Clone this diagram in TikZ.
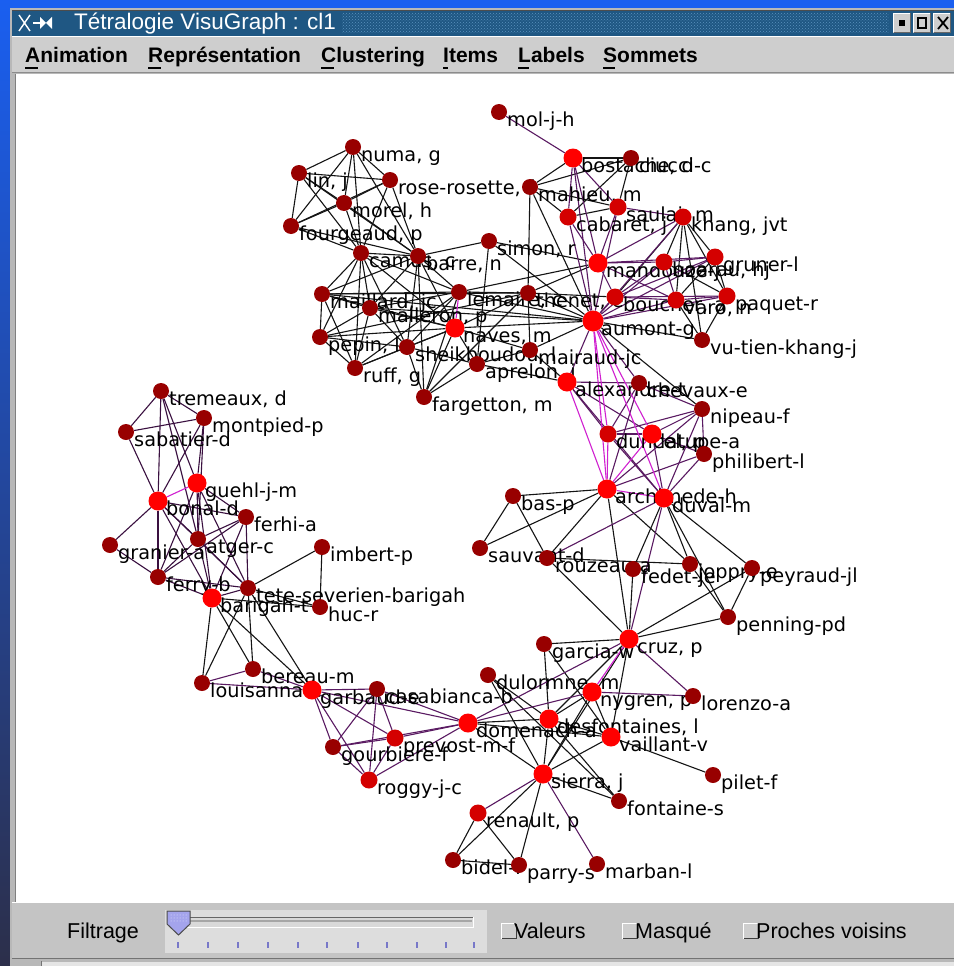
\documentclass[tikz,border=0pt]{standalone}
\usepackage{fontspec}
\setmainfont{DejaVu Sans}
\newfontfamily\uifont{Liberation Sans}
\usetikzlibrary{patterns}
\pgfdeclarelayer{chrome}
\pgfdeclarelayer{edges}
\pgfdeclarelayer{labels}
\pgfsetlayers{chrome,edges,labels,main}

\definecolor{deskblue}{HTML}{1A5FF0}
\definecolor{deskdark}{HTML}{2C2F4A}
\definecolor{titlebar}{HTML}{1F5783}
\definecolor{titledots}{HTML}{5A92BE}
\definecolor{panelgray}{HTML}{C4C4C4}
\definecolor{menugray}{HTML}{CECECE}
\definecolor{framegray}{HTML}{B8B8B8}
\definecolor{vbright}{HTML}{FF0000}
\definecolor{vmid}{HTML}{D40000}
\definecolor{vdark}{HTML}{980000}
\definecolor{epurple}{HTML}{5A1A62}
\definecolor{edeep}{HTML}{3A1040}
\definecolor{emagenta}{HTML}{D020D0}
\definecolor{thumbblue}{HTML}{A4A4EC}
\definecolor{tickblue}{HTML}{7878C8}

\tikzset{
  vx/.style={circle, inner sep=0pt, minimum size=16pt},
  br/.style={vx, fill=vbright, minimum size=19pt},
  md/.style={vx, fill=vmid, minimum size=17pt},
  dk/.style={vx, fill=vdark},
  lbl/.style={anchor=base west, inner sep=0pt, font=\fontsize{19.3}{19.3}\selectfont},
  ek/.style={line width=1.1pt, black!92},
  ep/.style={line width=1.1pt, epurple},
  ed/.style={line width=1.1pt, edeep},
  em/.style={line width=1.1pt, emagenta},
  menu/.style={anchor=base west, inner sep=0pt, font=\uifont\bfseries\fontsize{21}{21}\selectfont},
  ui/.style={anchor=base west, inner sep=0pt, font=\uifont\fontsize{21.5}{21.5}\selectfont},
}

% a graph vertex with its name label
\newcommand\gv[5]{%
  \node[#4] (#1) at (#2,#3) {};%
  \begin{pgfonlayer}{labels}\node[lbl] at ([shift={(8,14)}]#1.center) {#5};\end{pgfonlayer}}

\begin{document}
\begin{tikzpicture}[x=1pt,y=-1pt]
\useasboundingbox (0,0) rectangle (954,966);

% ---------- window chrome ----------
\begin{pgfonlayer}{chrome}
  \fill[deskblue] (0,0) rectangle (954,966);
  \shade[top color=deskblue, bottom color=deskdark] (0,0) rectangle (11,966);
  \fill[framegray] (10,8) rectangle (954,966);
  % title bar
  \fill[titlebar] (12,10) rectangle (954,36);
  \draw[black!70, line width=1pt] (12,10.5) -- (954,10.5);
  \fill[pattern=crosshatch dots, pattern color=titledots] (342,14) rectangle (889,33);
  \node[anchor=base west, inner sep=0pt, text=white, font=\uifont\fontsize{22.5}{22.5}\selectfont] (ttl) at (74,29.5) {Tétralogie VisuGraph : cl1};
  % window icon
  \draw[white, line width=1.4pt] (19,15) -- (30,31) (30,15) -- (19,31);
  \draw[white, line width=1.4pt] (33,23) -- (40,23);
  \fill[white] (40,17) -- (46,23) -- (40,29) -- cycle (52,17) -- (46,23) -- (52,29) -- cycle;
  % title buttons
  \foreach \bx in {893,913,933} {
    \fill[menugray] (\bx,13) rectangle (\bx+18,33);
    \draw[white] (\bx+0.5,32.5) -- (\bx+0.5,13.5) -- (\bx+17.5,13.5);
    \draw[black!60] (\bx+17.5,13.5) -- (\bx+17.5,32.5) -- (\bx+0.5,32.5);
  }
  \fill[black] (899,20) rectangle (905,26);
  \draw[black, line width=1.6pt] (918,18) rectangle (926,28);
  \draw[black, line width=1.8pt] (938,17) -- (948,29) (948,17) -- (938,29);
  % menu bar
  \fill[menugray] (12,36) rectangle (954,72);
  \draw[white] (12,36.5) -- (954,36.5);
  \draw[black!45] (12,72.5) -- (954,72.5);
  \node[menu] (m1) at (25,63) {Animation};
  \node[menu] (m2) at (148,63) {Représentation};
  \node[menu] (m3) at (321,63) {Clustering};
  \node[menu] (m4) at (443,63) {Items};
  \node[menu] (m5) at (518,63) {Labels};
  \node[menu] (m6) at (603,63) {Sommets};
  \foreach \ux/\uw in {25/13, 148/13, 321/13, 443/5, 518/11, 603/12}
    \draw[black, line width=1.4pt] (\ux,68) -- (\ux+\uw,68);
  % drawing area
  \fill[white] (16,74) rectangle (954,902);
  \draw[black!50] (15.5,73.5) -- (15.5,902);
  % bottom panel
  \fill[panelgray] (12,902) rectangle (954,958);
  \draw[white] (12,902.5) -- (954,902.5);
  \fill[framegray] (12,958) rectangle (954,966);
  \draw[black!55] (12,958.5) -- (954,958.5);
  \fill[white!90!black] (42,962) rectangle (954,966);
  \draw[black!55] (41.5,961) -- (41.5,966);
  \node[ui] (filt) at (67,938) {Filtrage};
  % slider
  \fill[menugray!70!white] (165,910) rectangle (487,953);
  \fill[black!15] (176,917) rectangle (474,928);
  \draw[black!60] (176,917.5) -- (474,917.5);
  \draw[black!40] (176.5,917) -- (176.5,928);
  \draw[white, line width=1.2pt] (176,927.4) -- (474,927.4) (473.4,917) -- (473.4,928);
  \draw[black!35, line width=1.2pt] (178,921) -- (472,921);
  \foreach \tx in {178,208,238,268,298,327,358,387,417,446,474}
    \draw[tickblue, line width=1.1pt] (\tx,942) -- (\tx,948);
  \fill[thumbblue] (167,911) -- (190,911) -- (190,924) -- (178.5,935) -- (167,924) -- cycle;
  \fill[pattern=dots, pattern color=white!70!thumbblue] (169,913) rectangle (188,922);
  \draw[black!70, line width=1pt] (167,911) -- (190,911) -- (190,924) -- (178.5,935) -- (167,924) -- cycle;
  % check boxes
  \foreach \cx/\ct in {501/Valeurs, 622/Masqué, 743/Proches voisins} {
    \fill[menugray] (\cx,923) rectangle (\cx+16,939);
    \draw[white] (\cx+0.5,938.5) -- (\cx+0.5,923.5) -- (\cx+15.5,923.5);
    \draw[black!75, line width=1.2pt] (\cx+15.4,923.5) -- (\cx+15.4,938.5) -- (\cx+0.5,938.5);
    \node[ui] at (\cx+13,938) {\ct};
  }
\end{pgfonlayer}

% ---------- vertices ----------
% upper right group
\gv{mol}{499}{112}{dk}{mol-j-h}
\gv{bost}{573}{158}{br}{bostache, d}
\gv{ciuc}{631}{158}{dk}{ciucci-c}
\gv{mahi}{530}{187}{dk}{mahieu, m}
\gv{saul}{618}{207}{md}{saulai, m}
\gv{caba}{568}{217}{md}{cabaret, j}
\gv{khan}{683}{217}{md}{khang, jvt}
\gv{mand}{598}{263}{br}{mandouze-j}
\gv{hoan}{664}{262}{md}{hoarau, hj}
\gv{grun}{715}{257}{md}{gruner-l}
\gv{then}{528}{293}{dk}{thenet, e}
\gv{bouc}{615}{297}{md}{boucher, a}
\gv{varo}{676}{300}{md}{varo, n}
\gv{paqu}{727}{296}{md}{paquet-r}
\node[br, minimum size=21pt] (aumo) at (593,321) {};
\begin{pgfonlayer}{labels}\node[lbl] at ([shift={(8,14)}]aumo.center) {aumont-g};\end{pgfonlayer}
\gv{vuti}{702}{340}{dk}{vu-tien-khang-j}
\gv{mair}{530}{350}{dk}{mairaud-jc}
% upper left group
\gv{numa}{353}{147}{dk}{numa, g}
\gv{lin}{299}{173}{dk}{lin, j}
\gv{rose}{390}{180}{dk}{rose-rosette, f}
\gv{more}{344}{203}{dk}{morel, h}
\gv{four}{291}{226}{dk}{fourgeaud, p}
\gv{camu}{361}{253}{dk}{camus, c}
\gv{barr}{418}{256}{dk}{barre, n}
\gv{simo}{489}{241}{dk}{simon, r}
\gv{mail}{322}{294}{dk}{maillard, jc}
\gv{mall}{370}{308}{dk}{malleron, p}
\gv{lema}{459}{292}{dk}{lemaire, c}
\gv{pepi}{320}{337}{dk}{pepin, l}
\gv{ruff}{355}{368}{dk}{ruff, g}
\gv{shei}{407}{347}{dk}{sheikboudou, l}
\gv{nave}{455}{328}{br}{naves, m}
\gv{apre}{477}{364}{dk}{aprelon, j}
\gv{farg}{424}{397}{dk}{fargetton, m}
% middle right group
\gv{alex}{567}{382}{br}{alexandre-t}
\gv{chev}{639}{383}{dk}{chevaux-e}
\gv{nipe}{702}{409}{dk}{nipeau-f}
\gv{dunc}{608}{434}{md}{duncel, p}
\gv{latu}{652}{434}{br}{latupe-a}
\gv{phil}{704}{454}{dk}{philibert-l}
\gv{arch}{607}{489}{br}{archimede-h}
\gv{duva}{664}{498}{br}{duval-m}
\gv{bas}{513}{496}{dk}{bas-p}
\gv{sauv}{480}{548}{dk}{sauvant-d}
\gv{rouz}{547}{558}{dk}{rouzeau-a}
\gv{fede}{633}{569}{dk}{fedet-je}
\gv{jopp}{690}{564}{dk}{joppry-e}
\gv{peyr}{752}{568}{dk}{peyraud-jl}
\gv{penn}{728}{617}{dk}{penning-pd}
\gv{cruz}{629}{639}{br}{cruz, p}
% lower group
\gv{garc}{544}{644}{dk}{garcia-w}
\gv{dulo}{488}{675}{dk}{dulormne, m}
\gv{nygr}{592}{692}{br}{nygren, p}
\gv{lore}{693}{696}{dk}{lorenzo-a}
\gv{dome}{468}{723}{br}{domenach-a}
\gv{desf}{549}{719}{br}{desfontaines, l}
\gv{vail}{611}{737}{br}{vaillant-v}
\gv{pile}{713}{775}{dk}{pilet-f}
\gv{sier}{543}{774}{br}{sierra, j}
\gv{font}{619}{801}{dk}{fontaine-s}
\gv{rena}{478}{813}{md}{renault, p}
\gv{bide}{453}{860}{dk}{bidel-l}
\gv{parr}{519}{865}{dk}{parry-s}
\gv{marb}{597}{864}{dk}{marban-l}
% lower left group
\gv{loui}{202}{683}{dk}{louisanna-e}
\gv{bere}{253}{669}{dk}{bereau-m}
\gv{garb}{312}{690}{br}{garbaud-e}
\gv{casa}{377}{689}{dk}{casabianca-b}
\gv{prev}{395}{738}{md}{prevost-m-f}
\gv{gour}{333}{747}{dk}{gourbiere-f}
\gv{rogg}{369}{780}{md}{roggy-j-c}
% left group
\gv{trem}{161}{391}{dk}{tremeaux, d}
\gv{mont}{204}{418}{dk}{montpied-p}
\gv{saba}{126}{432}{dk}{sabatier-d}
\gv{gueh}{197}{483}{br}{guehl-j-m}
\gv{bona}{158}{501}{br}{bonal-d}
\gv{ferh}{246}{517}{dk}{ferhi-a}
\gv{atge}{198}{539}{dk}{atger-c}
\gv{gran}{110}{545}{dk}{granier-a}
\gv{imbe}{322}{547}{dk}{imbert-p}
\gv{ferr}{158}{577}{dk}{ferry-b}
\gv{tete}{248}{588}{dk}{tete-severien-barigah}
\gv{bari}{212}{598}{br}{barigah-t}
\gv{huc}{320}{607}{dk}{huc-r}

% ---------- edges ----------
\begin{pgfonlayer}{edges}
\foreach \a/\b in {numa/lin, numa/rose, numa/more, numa/four, numa/camu, numa/barr,
  lin/rose, lin/more, lin/four, lin/camu, lin/barr, rose/more, rose/four, rose/camu,
  rose/barr, more/four, more/camu, more/barr, four/camu, four/barr, camu/barr,
  barr/simo, simo/aumo, simo/apre, simo/mand,
  camu/mail, camu/mall, camu/pepi, camu/ruff, camu/lema, camu/nave, camu/shei,
  barr/lema, barr/nave, barr/shei, barr/farg, barr/mall, barr/mail,
  mail/mall, mail/pepi, mail/ruff, mail/lema, mail/then, mail/aumo, mail/nave,
  mall/pepi, mall/ruff, mall/nave, mall/lema, mall/aumo, mall/shei,
  pepi/ruff, pepi/nave, pepi/shei, pepi/then,
  ruff/nave, ruff/shei, ruff/lema,
  shei/nave, shei/farg, shei/lema, shei/apre,
  nave/apre, nave/mair, nave/farg, nave/then, nave/aumo,
  farg/lema, farg/apre, farg/then,
  lema/then, lema/aumo, lema/mand,
  then/aumo, then/mand, then/mair, then/bouc,
  mair/aumo, mair/apre, apre/alex, mair/alex,
  mahi/aumo, mahi/then, mahi/bost, mahi/caba, mahi/ciuc, mahi/saul,
  bost/ciuc, ciuc/saul, ciuc/caba, caba/saul,
  khan/vuti, khan/bouc, khan/varo, khan/paqu, khan/grun, khan/hoan,
  grun/paqu, grun/varo, hoan/paqu, paqu/vuti, varo/vuti, aumo/vuti, aumo/nipe,
  arch/bas, arch/sauv, arch/rouz, arch/cruz, arch/jopp, bas/sauv, bas/rouz,
  duva/fede, duva/penn, duva/peyr, duva/jopp,
  rouz/jopp, rouz/cruz, fede/cruz, peyr/cruz, peyr/penn, penn/cruz, jopp/penn,
  garc/desf, garc/vail, cruz/sier, cruz/desf, cruz/vail, cruz/garc,
  dulo/sier, dulo/font, dulo/desf,
  nygr/desf, nygr/sier, nygr/vail,
  dome/desf, dome/vail, dome/sier, desf/sier, desf/vail, vail/sier, vail/pile,
  sier/font, sier/parr, sier/bide, rena/bide, rena/parr, bide/parr, desf/font,
  bari/loui, tete/loui, bari/bere, tete/bere, bari/garb, tete/garb,
  tete/imbe, imbe/huc, bari/huc, tete/huc}
  \draw[ek] (\a) -- (\b);
\foreach \a/\b in {mol/bost, bost/caba, bost/saul, bost/mand, bost/aumo, caba/aumo,
  caba/mand, saul/mand, saul/aumo, saul/khan, khan/mand, khan/aumo, mand/hoan,
  mand/grun, mand/bouc, mand/varo, hoan/grun, hoan/varo, hoan/bouc, hoan/aumo,
  grun/bouc, grun/aumo, paqu/varo, paqu/bouc, paqu/aumo, varo/bouc, varo/aumo, bouc/aumo,
  aumo/chev, aumo/alex, alex/chev, alex/dunc, alex/latu, alex/duva, chev/dunc,
  chev/nipe, chev/arch, nipe/dunc, nipe/latu, nipe/phil, nipe/arch, nipe/duva,
  dunc/latu, dunc/duva, latu/phil, phil/arch, phil/duva, latu/duva,
  duva/rouz, duva/cruz, cruz/dome, cruz/lore, nygr/dome, nygr/lore, sier/rena, sier/marb,
  dome/casa, dome/garb, dome/prev, dome/gour, dome/rogg,
  loui/bere, loui/garb, bere/garb, garb/casa, garb/gour, garb/prev, garb/rogg,
  casa/gour, casa/prev, casa/rogg, gour/prev, gour/rogg, prev/rogg}
  \draw[ep] (\a) -- (\b);
\foreach \a/\b in {trem/mont, trem/saba, trem/bona, trem/gueh, trem/atge, saba/mont,
  saba/bona, mont/gueh, mont/bona, mont/atge, gueh/ferh, gueh/atge, gueh/ferr,
  gueh/tete, gueh/bari, bona/ferh, bona/atge, bona/gran, bona/ferr, bona/bari,
  bona/tete, ferh/atge, ferh/ferr, ferh/bari, ferh/tete, atge/ferr, atge/bari,
  atge/tete, gran/ferr, ferr/bari, ferr/tete, tete/bari}
  \draw[ed] (\a) -- (\b);
\foreach \a/\b in {aumo/arch, aumo/dunc, aumo/latu, alex/arch, dunc/arch, latu/arch,
  arch/duva, aumo/duva, cruz/nygr, gueh/bona, lema/nave}
  \draw[em] (\a) -- (\b);
\end{pgfonlayer}
\end{tikzpicture}
\end{document}
